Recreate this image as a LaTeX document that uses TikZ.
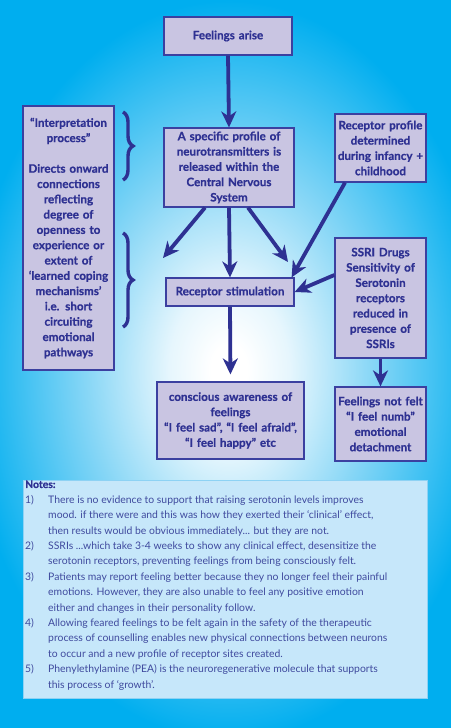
\documentclass[tikz,border=0pt]{standalone}
\usepackage{fontspec}
\setmainfont{Lato}
\newfontfamily\bxfam{Lato}[BoldFeatures={FakeBold=0.7}]
\usetikzlibrary{arrows.meta,decorations.pathreplacing}
\definecolor{bgcyan}{HTML}{00AEEF}
\definecolor{boxfill}{HTML}{C9C5E2}
\definecolor{navy}{HTML}{2E3192}
\definecolor{boxline}{HTML}{3B40A0}
\definecolor{notefill}{HTML}{C6E7FA}
\definecolor{noteline}{HTML}{8ED2F4}
\definecolor{notetext}{HTML}{3F4A9E}
\definecolor{glowa}{HTML}{E6F6FD}
\definecolor{glowb}{HTML}{86D6F6}
\pgfdeclareradialshading{glow}{\pgfpoint{0bp}{0bp}}{color(0bp)=(white); color(1.5bp)=(white); color(5bp)=(glowa); color(12bp)=(glowb); color(22bp)=(bgcyan); color(50bp)=(bgcyan)}
\newcommand\bxfont{\bxfam\bfseries\fontsize{11.6}{15.3}\selectfont}
\newcommand\ntfont{\fontsize{10.4}{15.4}\selectfont}
\begin{document}
\begin{tikzpicture}[x=1pt,y=-1pt,
  box/.style={draw=boxline, line width=1.2pt, fill=boxfill, text=navy, font=\bxfont, align=center, inner sep=0pt},
  arr/.style={draw=navy, line width=3.8pt, -{Stealth[length=16pt,width=15pt,inset=5pt]}},
  bracestyle/.style={draw=navy, line width=3.4pt, decorate, decoration={brace, amplitude=10pt}}]
\useasboundingbox (0,0) rectangle (450,728);
\fill[bgcyan] (-10,-10) rectangle (460,738);
\fill[shading=glow] (-71,-50) rectangle (529,790);
% boxes
\node[box, minimum width=128pt, minimum height=38pt, text width=124pt] (feel) at (228,36) {Feelings arise};
\node[box, minimum width=91pt, minimum height=264pt, text width=90pt] (interp) at (68.5,238) {“Interpretation\\process”\\[15.3pt]Directs onward\\connections\\reflecting\\degree of\\openness to\\experience or\\extent of\\‘learned coping\\mechanisms’\\i.e. short\\circuiting\\emotional\\pathways};
\node[box, minimum width=130pt, minimum height=79pt, text width=128pt] (cns) at (229,167.5) {A specific profile of\\neurotransmitters is\\released within the\\Central Nervous\\System};
\node[box, minimum width=91pt, minimum height=68pt, text width=90pt] (recprof) at (380.5,148) {Receptor profile\\determined\\during infancy +\\childhood};
\node[box, minimum width=128pt, minimum height=28pt, text width=126pt] (stim) at (230,292) {Receptor stimulation};
\node[box, minimum width=91pt, minimum height=120pt, text width=90pt] (ssri) at (380.5,298) {SSRI Drugs\\Sensitivity of\\Serotonin\\receptors\\reduced in\\presence of\\SSRIs};
\node[box, minimum width=147pt, minimum height=77pt, text width=146pt] (aware) at (230.5,420.5) {conscious awareness of\\feelings\\“I feel sad”, “I feel afraid”,\\“I feel happy” etc};
\node[box, minimum width=91pt, minimum height=74pt, text width=90pt] (numb) at (380.5,424) {Feelings not felt\\“I feel numb”\\emotional\\detachment};
% free ends
\coordinate (t1) at (163,258);
\coordinate (t3) at (288,262);
\coordinate (b1a) at (123,112);
\coordinate (b1b) at (123,180);
\coordinate (b2a) at (123,233);
\coordinate (b2b) at (123,327);
% connectors
\draw[arr] (feel.south) -- (cns.north);
\draw[arr] ([xshift=-24pt]cns.south) -- (t1);
\draw[arr] (cns.south) -- (stim.north);
\draw[arr] ([xshift=19pt]cns.south) -- (t3);
\draw[arr] ([xshift=-35.5pt]recprof.south) -- ([xshift=-3pt]stim.north east);
\draw[arr] ([yshift=23pt]ssri.west) -- (stim.east);
\draw[arr, shorten >=7pt] (stim.south) -- (aware.north);
\draw[arr] (ssri.south) -- (numb.north);
% braces
\draw[bracestyle] (b1a) -- (b1b);
\draw[bracestyle] (b2a) -- (b2b);
% notes
\node[draw=noteline, fill=notefill, line width=0.8pt, minimum width=404pt, minimum height=218pt, inner sep=0pt] (notes) at (225,589) {};
\node[anchor=north west, inner sep=0pt, text=notetext, font=\ntfont] (notetxt) at (25,477) {%
\begin{tabular}{@{}p{23pt}@{}l@{}}
\multicolumn{2}{@{}l@{}}{\textcolor{navy}{\bxfam\bfseries Notes:}}\\
1) & There is no evidence to support that raising serotonin levels improves\\
 & mood. if there were and this was how they exerted their ‘clinical’ effect,\\
 & then results would be obvious immediately... but they are not.\\
2) & SSRIs ...which take 3-4 weeks to show any clinical effect, desensitize the\\
 & serotonin receptors, preventing feelings from being consciously felt.\\
3) & Patients may report feeling better because they no longer feel their painful\\
 & emotions. However, they are also unable to feel any positive emotion\\
 & either and changes in their personality follow.\\
4) & Allowing feared feelings to be felt again in the safety of the therapeutic\\
 & process of counselling enables new physical connections between neurons\\
 & to occur and a new profile of receptor sites created.\\
5) & Phenylethylamine (PEA) is the neuroregenerative molecule that supports\\
 & this process of ‘growth’.
\end{tabular}};
\end{tikzpicture}
\end{document}
